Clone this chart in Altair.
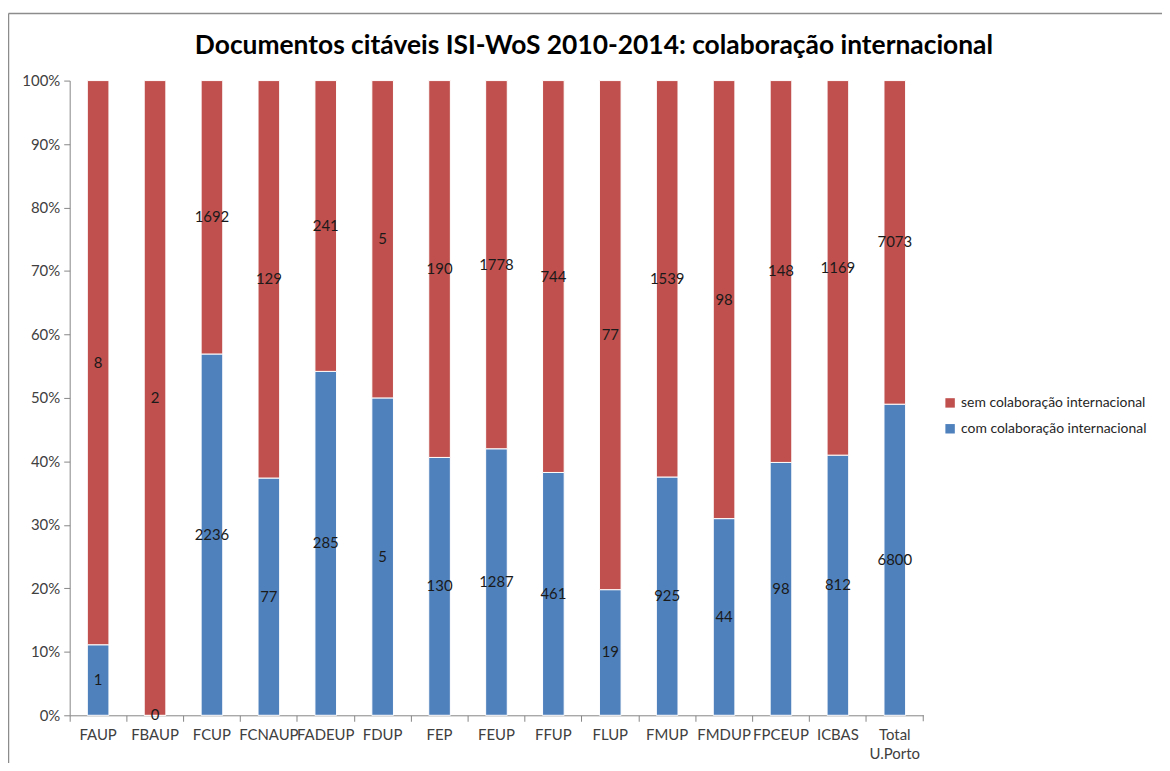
import altair as alt
import pandas as pd

categories = ["FAUP", "FBAUP", "FCUP", "FCNAUP", "FADEUP", "FDUP", "FEP", "FEUP",
              "FFUP", "FLUP", "FMUP", "FMDUP", "FPCEUP", "ICBAS", "Total U.Porto"]
com_colab = [1, 0, 2236, 77, 285, 5, 130, 1287, 461, 19, 925, 44, 98, 812, 6800]
sem_colab = [8, 2, 1692, 129, 241, 5, 190, 1778, 744, 77, 1539, 98, 148, 1169, 7073]

series_names = ["sem colaboração internacional", "com colaboração internacional"]
series_colors = ["#C0504D", "#4F81BD"]
title_text = "Documentos citáveis ISI-WoS 2010-2014: colaboração internacional"

rows = []
for c, a, b in zip(categories, com_colab, sem_colab):
    rows.append({"cat": c, "serie": series_names[1], "value": a, "ord": 0})
    rows.append({"cat": c, "serie": series_names[0], "value": b, "ord": 1})
df = pd.DataFrame(rows)

FONT = "Lato"
W, H = 858, 638

base = alt.Chart(df).transform_stack(
    stack="value", groupby=["cat"], as_=["y0", "y1"], offset="normalize",
    sort=[alt.SortField("ord", order="ascending")]
).transform_calculate(mid="(datum.y0 + datum.y1) / 2")

x_enc = alt.X("cat:N", sort=categories, title=None,
              scale=alt.Scale(paddingInner=0, paddingOuter=0),
              axis=alt.Axis(labelAngle=0, bandPosition=0,
                            labelExpr="split(datum.label, ' ')",
                            labelFontSize=15, labelColor="#404040", labelFont=FONT,
                            labelPadding=6, tickSize=6, tickColor="#868686",
                            domainColor="#868686", labelLineHeight=19))

bars = base.mark_bar(stroke="white", strokeWidth=1, width=alt.RelativeBandSize(0.38)).encode(
    x=x_enc,
    y=alt.Y("y0:Q", title=None,
            scale=alt.Scale(domain=[0, 1], nice=False),
            axis=alt.Axis(format="%", values=[i / 10 for i in range(11)], grid=False,
                          labelFontSize=15, labelColor="#404040", labelFont=FONT,
                          tickSize=6, tickColor="#868686", domainColor="#868686",
                          labelPadding=4)),
    y2="y1:Q",
    color=alt.Color("serie:N",
                    scale=alt.Scale(domain=series_names, range=series_colors),
                    legend=alt.Legend(title=None, orient="none", legendX=878, legendY=317,
                                      symbolType="square", symbolSize=90,
                                      symbolStrokeWidth=0, rowPadding=12,
                                      labelFontSize=14, labelFont=FONT,
                                      labelColor="#262626", labelLimit=300)),
)

labels = base.mark_text(fontSize=15, font=FONT, color="#1a1a1a").encode(
    x=alt.X("cat:N", sort=categories),
    y=alt.Y("mid:Q"),
    text="value:Q",
)

deco = alt.Chart(pd.DataFrame({"t": [title_text]}))
title_mark = deco.mark_text(fontSize=26.5, font=FONT, fontWeight="bold", color="#000000",
                            align="center", baseline="middle").encode(
    x=alt.value(527), y=alt.value(-35), text="t:N")
last_tick = deco.mark_rule(color="#868686").encode(
    x=alt.value(W), y=alt.value(H), y2=alt.value(H + 6))
frame_top = deco.mark_rule(color="#8c8c8c", strokeWidth=1.5).encode(
    x=alt.value(-61.5), x2=alt.value(1110), y=alt.value(-67.5))
frame_left = deco.mark_rule(color="#8c8c8c", strokeWidth=1.5).encode(
    x=alt.value(-61.5), y=alt.value(-67.5), y2=alt.value(700))

chart = alt.layer(bars, labels, last_tick, frame_top, frame_left, title_mark).properties(
    width=W, height=H,
    autosize=alt.AutoSizeParams(type="none"),
    padding={"left": 62, "top": 71, "right": 240, "bottom": 46},
).configure_view(stroke=None)

chart.save("out.html", embed_options={"renderer": "svg", "actions": False})
